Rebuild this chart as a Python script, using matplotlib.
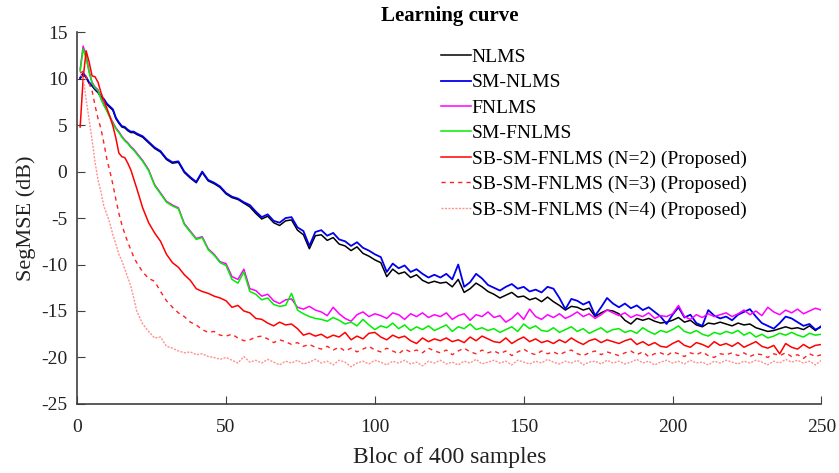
import matplotlib
matplotlib.use("Agg")
import matplotlib.pyplot as plt

plt.rcParams["font.family"] = ["Liberation Serif", "DejaVu Serif"]
plt.rcParams["axes.unicode_minus"] = False

# block index: 1..20 then every second block up to 250
blocks = list(range(1, 21)) + list(range(22, 251, 2))

nlms = [10.0, 10.5, 10.1, 9.5, 9.2, 8.8, 8.5, 8.0, 7.7, 7.2, 6.9, 6.6, 5.7, 5.2, 4.8, 4.7, 4.4, 4.2, 4.2, 4.0,
        3.7, 3.1, 2.5, 2.1, 1.3, 0.9, 1.0, -0.1, -0.7, -1.2,
        -0.1, -1.0, -1.3, -1.7, -2.4, -2.8, -3.0, -3.4, -3.8, -4.5,
        -5.1, -4.8, -5.5, -5.8, -5.3, -5.2, -6.3, -6.8, -8.3, -6.9,
        -6.8, -7.4, -7.1, -7.8, -8.0, -8.5, -8.1, -8.8, -9.1, -9.5,
        -9.8, -11.3, -10.5, -11.0, -10.8, -11.4, -11.1, -11.7, -12.0, -11.8,
        -12.0, -11.9, -12.4, -11.6, -13.0, -12.6, -12.0, -12.4, -12.9, -13.2,
        -13.6, -13.3, -13.0, -13.5, -13.4, -13.8, -13.6, -14.0, -13.5, -14.0,
        -14.4, -14.9, -14.5, -14.6, -14.9, -14.7, -15.6, -15.2, -14.9, -15.0,
        -15.3, -16.0, -16.4, -15.8, -16.0, -15.8, -16.1, -16.3, -16.2, -16.0,
        -15.7, -16.2, -16.0, -16.5, -16.7, -16.3, -16.4, -16.2, -16.4, -16.6,
        -16.3, -16.5, -16.4, -16.8, -17.0, -17.2, -17.1, -16.9, -16.7, -16.9,
        -16.8, -17.0, -16.6, -17.1, -16.6]

sm_nlms = [10.1, 10.6, 10.2, 9.6, 9.3, 8.9, 8.6, 8.1, 7.8, 7.3, 7.0, 6.7, 5.8, 5.3, 4.9, 4.8, 4.5, 4.3, 4.3, 4.1,
           3.8, 3.2, 2.6, 2.2, 1.4, 1.0, 1.1, 0.0, -0.6, -1.1,
           0.0, -0.9, -1.2, -1.6, -2.3, -2.7, -2.9, -3.3, -3.6, -4.3,
           -4.9, -4.6, -5.3, -5.5, -5.0, -4.9, -6.0, -6.4, -8.0, -6.5,
           -6.3, -6.9, -6.6, -7.3, -7.5, -8.0, -7.6, -8.2, -8.5, -8.9,
           -9.2, -10.8, -9.9, -10.4, -10.1, -10.8, -10.5, -11.0, -11.4, -11.1,
           -11.4, -11.0, -11.6, -10.0, -12.4, -11.9, -11.0, -11.5, -12.2, -12.5,
           -12.8, -12.4, -12.1, -12.6, -12.4, -12.9, -12.7, -13.0, -12.4, -12.6,
           -13.6, -14.8, -13.7, -13.9, -14.3, -14.0, -15.5, -14.6, -13.6, -14.2,
           -14.6, -14.2, -14.7, -14.4, -14.9, -14.6, -15.1, -15.6, -16.4, -15.4,
           -14.6, -15.7, -15.4, -16.3, -16.6, -14.9, -15.5, -15.8, -15.6, -16.0,
           -15.4, -15.1, -14.8, -15.6, -16.3, -16.6, -16.9, -16.3, -15.6, -15.8,
           -16.2, -16.6, -16.4, -17.0, -16.7]

fnlms = [11.0, 13.5, 12.5, 10.8, 9.6, 9.1, 8.8, 7.9, 7.2, 6.6, 5.9, 5.3, 4.7, 4.3, 3.8, 3.4, 3.1, 2.7, 2.4, 2.0,
         1.2, 0.2, -1.4, -2.3, -3.2, -3.6, -3.9, -5.6, -6.4, -7.2,
         -7.0, -8.3, -8.9, -9.7, -9.9, -11.3, -11.6, -10.5, -12.6, -12.8,
         -13.4, -13.2, -13.9, -14.2, -13.8, -13.7, -14.6, -14.8, -14.5, -14.9,
         -15.1, -15.5, -14.6, -15.3, -15.8, -16.1, -15.4, -15.1, -15.6, -15.3,
         -15.5, -15.8, -15.2, -15.4, -15.9, -15.3, -15.6, -15.2, -15.7, -15.4,
         -15.6, -15.2, -15.9, -15.5, -15.3, -16.0, -15.4, -15.6, -15.1, -15.7,
         -15.5, -16.2, -15.8, -15.2, -15.9, -14.8, -15.6, -15.9, -15.4, -15.7,
         -15.3, -15.8, -15.5, -15.1, -15.6, -15.3, -15.8, -15.4, -14.9, -15.2,
         -15.5, -15.2, -15.7, -15.4, -15.6, -15.2, -15.8, -15.5, -15.6, -15.3,
         -14.4, -15.6, -15.9, -15.4, -15.7, -15.3, -15.6, -15.4, -15.2, -15.6,
         -15.3, -14.9, -15.4, -15.0, -15.5, -14.6, -15.1, -15.4, -14.9, -15.2,
         -14.8, -15.3, -15.0, -14.7, -14.9]

sm_fnlms = [10.8, 13.2, 12.2, 10.7, 9.5, 9.0, 8.7, 7.8, 7.1, 6.5, 5.8, 5.2, 4.6, 4.2, 3.7, 3.3, 3.0, 2.6, 2.3, 1.9,
            1.1, 0.1, -1.5, -2.4, -3.3, -3.7, -4.0, -5.7, -6.5, -7.3,
            -7.1, -8.4, -9.0, -9.8, -10.1, -11.6, -12.0, -10.8, -12.9, -13.2,
            -13.8, -13.6, -14.3, -14.5, -14.4, -13.1, -14.9, -15.3, -15.6, -15.8,
            -15.9, -16.1, -15.7, -16.0, -16.4, -16.2, -16.6, -15.9, -16.5, -17.0,
            -16.6, -16.8, -16.3, -16.9, -16.5, -17.1, -16.7, -17.0, -16.6, -17.1,
            -16.8, -16.5, -17.2, -16.7, -16.9, -16.4, -17.0, -16.8, -17.1, -16.9,
            -17.3, -17.0, -16.7, -17.2, -16.4, -16.9, -16.6, -17.1, -17.2, -16.8,
            -17.3, -17.0, -16.7, -17.2, -16.9, -17.4, -17.1, -16.8, -17.3, -17.0,
            -16.9, -17.3, -17.1, -17.4, -16.8, -17.2, -17.5, -17.1, -17.3, -17.0,
            -16.6, -17.2, -17.4, -17.1, -17.5, -17.7, -17.3, -17.5, -17.2, -17.4,
            -17.1, -17.6, -17.3, -17.8, -17.5, -17.9, -17.7, -17.4, -17.6, -17.3,
            -17.6, -17.8, -17.4, -17.6, -17.5]

sb_n2 = [4.8, 10.0, 13.0, 11.8, 10.3, 10.2, 9.6, 8.5, 7.6, 6.8, 5.9, 4.9, 3.6, 2.0, 1.6, 1.5, 0.9, 0.2, -0.8, -1.8,
         -3.9, -5.5, -6.6, -7.5, -8.9, -9.8, -10.3, -11.1, -11.7, -12.6,
         -12.9, -13.1, -13.4, -13.6, -13.9, -14.6, -14.4, -15.0, -15.2, -15.8,
         -15.9, -16.3, -16.6, -16.2, -16.5, -16.4, -16.9, -17.6, -17.4, -17.7,
         -17.5, -17.9, -17.6, -17.8, -17.3, -18.1, -17.7, -18.0, -17.4, -17.3,
         -17.8, -18.1, -17.6, -17.9, -17.7, -18.2, -18.5, -17.9, -18.3, -18.0,
         -18.2, -17.9, -18.3, -18.1, -18.4, -17.8, -18.2, -17.7, -18.0, -18.3,
         -18.4, -17.9, -18.5, -18.1, -17.8, -18.3, -18.0, -18.4, -18.2, -18.5,
         -18.1, -18.4, -17.9, -18.3, -18.6, -18.2, -18.0, -18.4, -18.1, -18.3,
         -18.5, -18.2, -18.0, -18.6, -18.3, -18.7, -18.4, -18.8, -18.9, -18.5,
         -18.2, -18.7, -18.9, -18.4, -18.6, -18.9, -18.3, -18.7, -18.5, -18.8,
         -18.4, -18.9, -18.6, -18.3, -18.8, -19.0, -18.7, -19.6, -18.5, -18.9,
         -19.1, -18.6, -19.0, -18.7, -18.6]

sb_n3 = [10.6, 10.8, 10.2, 9.5, 8.7, 7.1, 5.7, 4.6, 3.0, 1.3, 0.0, -1.4, -3.0, -4.5, -5.7, -6.7, -7.6, -8.4, -9.2, -9.8,
         -10.8, -11.5, -11.8, -12.9, -13.9, -14.6, -15.2, -15.6, -16.2, -16.5,
         -17.0, -17.3, -17.2, -17.6, -17.7, -17.5, -17.9, -18.2, -18.1, -17.8,
         -17.7, -18.0, -18.4, -18.1, -18.3, -18.6, -18.4, -18.8, -18.6, -18.9,
         -19.1, -18.8, -19.2, -18.9, -19.3, -19.0, -19.4, -19.1, -18.8, -19.2,
         -19.4, -19.0, -19.3, -19.6, -19.1, -19.4, -19.2, -19.5, -19.0, -19.3,
         -19.5, -19.2, -19.7, -19.3, -19.0, -19.4, -19.6, -19.2, -19.5, -19.3,
         -19.6, -19.3, -19.8, -19.4, -19.1, -19.5, -19.7, -19.3, -19.6, -19.4,
         -19.7, -19.4, -19.2, -19.6, -19.8, -19.5, -19.3, -19.7, -19.4, -19.6,
         -19.8, -19.5, -19.3, -19.7, -19.4, -19.9, -19.6, -19.5, -19.8, -19.4,
         -19.6, -19.9, -19.5, -19.7, -19.4, -19.8, -20.0, -19.6, -19.7, -19.5,
         -19.8, -19.5, -19.9, -19.6, -19.7, -20.0, -19.6, -19.8, -19.5, -19.9,
         -19.7, -20.1, -19.6, -19.9, -19.7]

sb_n4 = [10.4, 10.1, 7.8, 5.6, 3.4, 1.0, -0.9, -2.2, -3.8, -4.6, -5.6, -6.8, -7.8, -8.9, -9.6, -10.5, -11.4, -12.3, -13.6, -15.0,
         -16.4, -17.2, -17.9, -17.8, -18.8, -19.0, -19.3, -19.5, -19.4, -19.7,
         -19.6, -19.9, -20.0, -20.2, -20.0, -20.3, -20.6, -19.9, -20.5, -20.3,
         -20.6, -20.2, -20.5, -20.8, -20.4, -20.6, -20.3, -20.7, -20.5, -20.2,
         -20.6, -20.4, -20.8, -20.3, -20.5, -21.0, -20.6, -20.4, -20.7, -20.3,
         -20.5, -20.8, -20.4, -20.6, -20.3, -20.7, -20.5, -20.9, -20.4, -20.6,
         -20.3, -20.7, -20.5, -20.8, -20.4, -20.6, -20.2, -20.7, -20.5, -20.3,
         -20.6, -20.4, -20.8, -20.3, -20.5, -20.7, -20.4, -20.6, -20.2, -20.5,
         -20.7, -20.4, -20.6, -20.3, -20.8, -20.5, -20.4, -20.7, -20.3, -20.6,
         -20.4, -20.7, -20.5, -20.2, -20.6, -20.4, -20.8, -20.5, -20.3, -20.6,
         -20.4, -20.7, -20.3, -20.6, -20.5, -20.8, -20.4, -20.6, -20.3, -20.5,
         -20.7, -20.4, -20.6, -20.3, -20.5, -20.8, -20.4, -20.6, -20.2, -20.5,
         -20.3, -20.6, -20.4, -20.8, -20.3]

labels = ["NLMS", "SM-NLMS", "FNLMS", "SM-FNLMS",
          "SB-SM-FNLMS (N=2) (Proposed)",
          "SB-SM-FNLMS (N=3) (Proposed)",
          "SB-SM-FNLMS (N=4) (Proposed)"]

fig = plt.figure(figsize=(8.39, 4.73), dpi=100)
ax = fig.add_axes([0.092, 0.146, 0.887, 0.786])

ax.plot(blocks, nlms, color="black", lw=1.1, label=labels[0])
ax.plot(blocks, sm_nlms, color="#0000ee", lw=1.3, label=labels[1])
ax.plot(blocks, fnlms, color="#ff00ff", lw=1.1, label=labels[2])
ax.plot(blocks, sm_fnlms, color="#00ee00", lw=1.1, label=labels[3])
ax.plot(blocks, sb_n2, color="#ff0000", lw=1.1, label=labels[4])
ax.plot(blocks, sb_n3, color="#ff2020", lw=1.0, ls=(0, (3, 3)), label=labels[5])
ax.plot(blocks, sb_n4, color="#ff9090", lw=1.0, ls=(0, (1.5, 1)), label=labels[6])

ax.set_xlim(0, 250)
ax.set_ylim(-25, 15)
ax.set_xticks([0, 50, 100, 150, 200, 250])
ax.set_yticks([15, 10, 5, 0, -5, -10, -15, -20, -25])
ax.tick_params(direction="in", labelsize=14, length=6, color="#404040", labelcolor="#222222")
ax.tick_params(axis="x", pad=11)
ax.tick_params(axis="y", pad=7)
for side in ["top", "right"]:
    ax.spines[side].set_visible(False)
for side in ["left", "bottom"]:
    ax.spines[side].set_color("#404040")
    ax.spines[side].set_linewidth(1.2)

ax.set_title("Learning curve", fontsize=15, fontweight="bold", pad=8)
ax.set_xlabel("Bloc of 400 samples", fontsize=17, labelpad=8, color="#222222")
ax.set_ylabel("SegMSE (dB)", fontsize=16, labelpad=4, color="#222222")

ax.legend(loc="upper left", bbox_to_anchor=(0.470, 0.993), frameon=False,
          fontsize=14, handlelength=1.55, handletextpad=0.05, labelspacing=0.4,
          borderpad=0.2)

fig.savefig("out.png", dpi=100)
